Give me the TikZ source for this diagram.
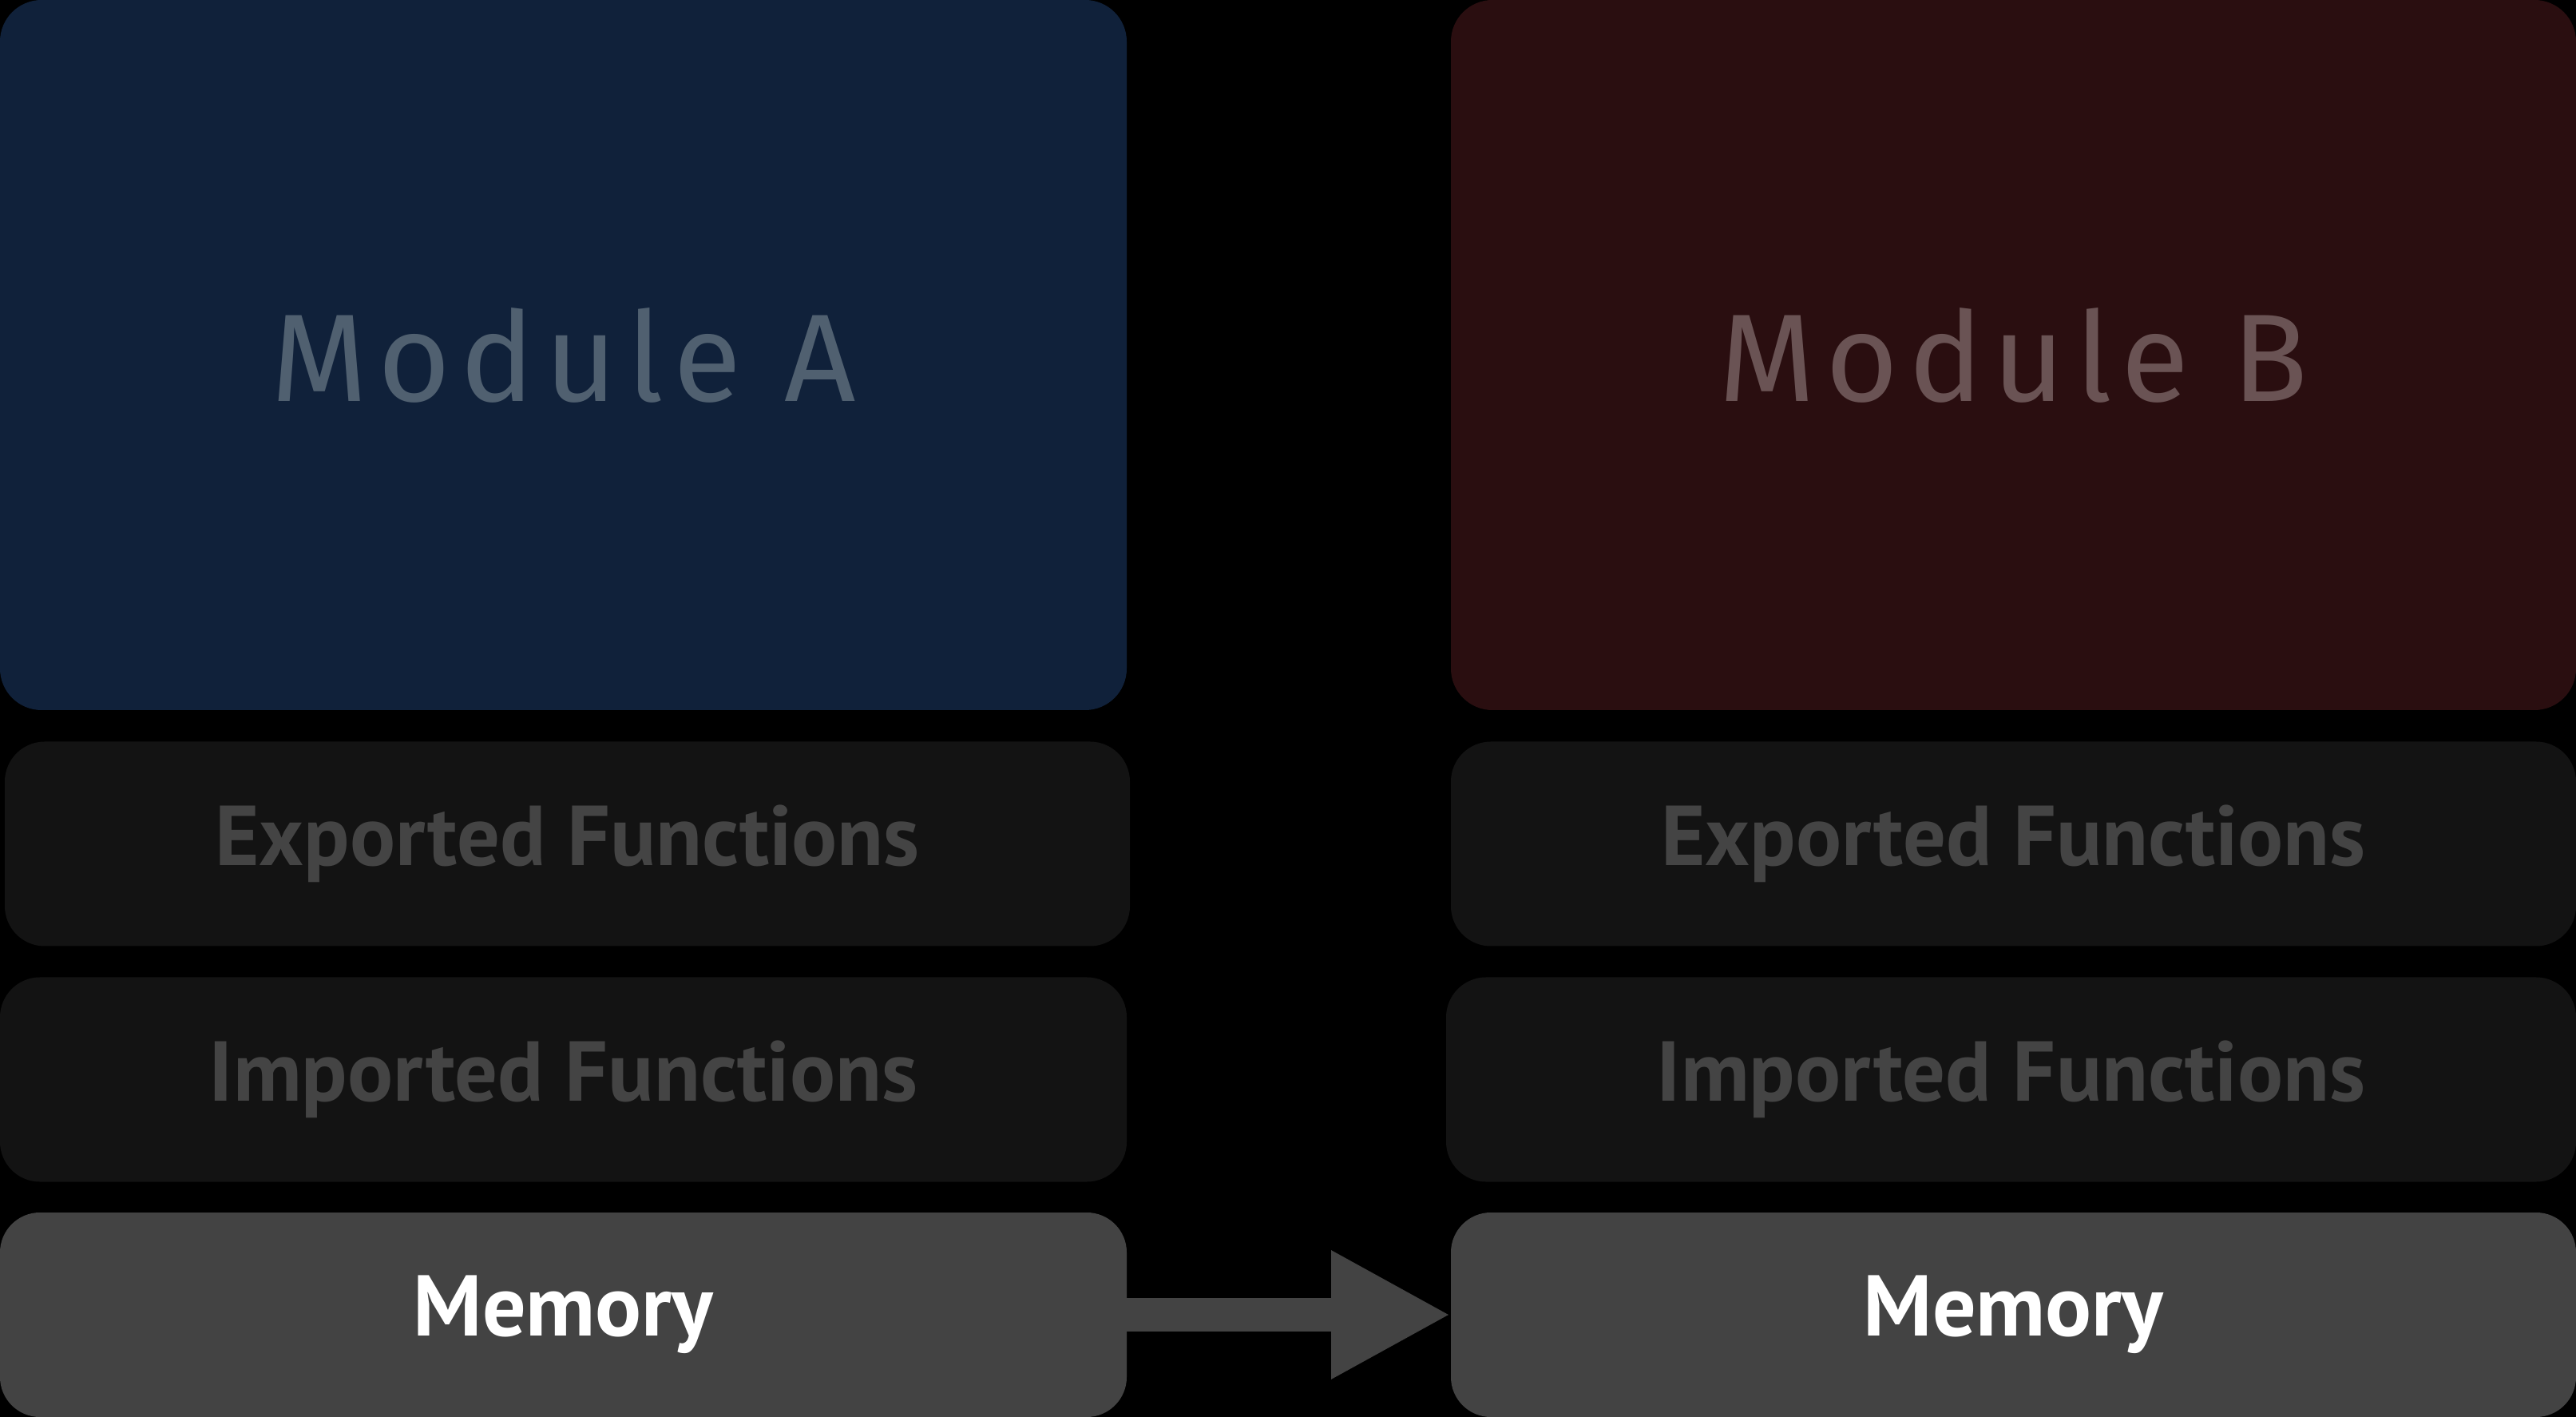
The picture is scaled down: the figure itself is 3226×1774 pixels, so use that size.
\documentclass[tikz,border=0pt]{standalone}
\usepackage{fontspec}
\setmainfont{PT Sans}
\newfontfamily\modfont{Fira Sans}[LetterSpace=8]
\usetikzlibrary{arrows.meta}
\definecolor{bgblack}{HTML}{000000}
\definecolor{modAfill}{HTML}{10213A}
\definecolor{modAtext}{HTML}{506070}
\definecolor{modBfill}{HTML}{2A0E10}
\definecolor{modBtext}{HTML}{6A5354}
\definecolor{funcfill}{HTML}{131313}
\definecolor{functext}{HTML}{444444}
\definecolor{memfill}{HTML}{434343}
\tikzset{
  px/.style={x=0.25pt,y=-0.25pt},
  modbox/.style={rounded corners=13pt, minimum height=222.25pt, inner sep=0pt, outer sep=0pt,
     font=\modfont\fontsize{39}{47}\selectfont},
  funcbox/.style={rounded corners=12.5pt, fill=funcfill, text=functext, minimum height=64pt,
     inner sep=0pt, outer sep=0pt, font=\bfseries\fontsize{26.6}{32}\selectfont},
  membox/.style={rounded corners=12.5pt, fill=memfill, text=white, minimum height=64pt,
     inner sep=0pt, outer sep=0pt, font=\bfseries\fontsize{27}{32}\selectfont},
  memarrow/.style={draw=memfill, line width=10.5pt, -{Triangle[length=37.5pt,width=37.5pt]}}
}
\begin{document}
\begin{tikzpicture}[px]
\fill[bgblack] (0,0) rectangle (3226,1774);
\useasboundingbox (0,0) rectangle (3226,1774);
\node[modbox, fill=modAfill, text=modAtext, minimum width=352.75pt] (modA) at (705.5,444.5) {Module A};
\node[modbox, fill=modBfill, text=modBtext, minimum width=352.25pt] (modB) at (2521.5,444.5) {Module B};
\node[funcbox, minimum width=352.25pt] (expA) at (710.5,1056.5) {Exported Functions};
\node[funcbox, minimum width=352.25pt] (expB) at (2521.5,1056.5) {Exported Functions};
\node[funcbox, minimum width=352.75pt] (impA) at (705.5,1351.5) {Imported Functions};
\node[funcbox, minimum width=353.75pt] (impB) at (2518.5,1351.5) {Imported Functions};
\node[membox, minimum width=352.75pt] (memA) at (705.5,1646) {Memory};
\node[membox, minimum width=352.25pt] (memB) at (2521.5,1646) {Memory};
\draw[memarrow] (memA.east) -- (memB.west);
\end{tikzpicture}
\end{document}
